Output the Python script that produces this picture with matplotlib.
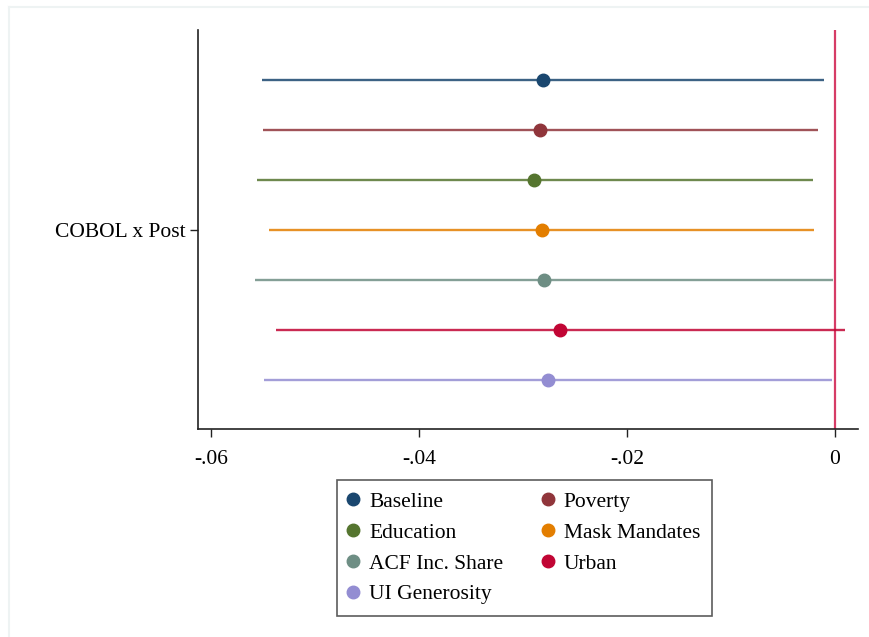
import matplotlib.pyplot as plt
from matplotlib.lines import Line2D

# 模型名称与估计结果（系数与95%置信区间）
models = ['Baseline', 'Poverty', 'Education', 'Mask Mandates',
          'ACF Inc. Share', 'Urban', 'UI Generosity']
coef = [-0.02813, -0.02836, -0.02893, -0.02822, -0.02800, -0.02643, -0.02765]
ci_low = [-0.05514, -0.05504, -0.05565, -0.05443, -0.05581, -0.05376, -0.05497]
ci_high = [-0.00106, -0.00161, -0.00215, -0.00199, -0.00022, 0.00096, -0.00029]
colors = ['#1a476f', '#90353b', '#55752f', '#e37e00',
          '#6e8e84', '#c10534', '#938dd2']

x_ticks = [-0.06, -0.04, -0.02, 0]
x_tick_labels = ['-.06', '-.04', '-.02', '0']
y_label = 'COBOL x Post'

plt.rcParams['font.family'] = ['Liberation Serif', 'DejaVu Serif']

fig = plt.figure(figsize=(8.7, 6.37), dpi=100)
ax = fig.add_axes([0.2272, 0.3261, 0.7590, 0.6268])

# 置信区间与点估计
for i, name in enumerate(models):
    pos = i + 1
    ax.plot([ci_low[i], ci_high[i]], [pos, pos], color=colors[i],
            lw=1.7, alpha=0.85, solid_capstyle='butt', zorder=2)
    ax.plot(coef[i], pos, 'o', color=colors[i], ms=9, label=name, zorder=3)

# 零线
ax.axvline(0, color='#d63c66', lw=1.6, zorder=1)

ax.set_xlim(-0.06133, 0.00221)
ax.set_ylim(7.99, 0)

ax.set_xticks(x_ticks)
ax.set_xticklabels(x_tick_labels, fontsize=15.5)
ax.set_yticks([4])
ax.set_yticklabels([y_label], fontsize=15.5)
ax.tick_params(axis='both', length=6, width=1, color='#222222')
ax.tick_params(axis='x', pad=9)
ax.tick_params(axis='y', pad=3)

for side in ['top', 'right']:
    ax.spines[side].set_visible(False)
for side in ['left', 'bottom']:
    ax.spines[side].set_linewidth(1.2)
    ax.spines[side].set_color('#222222')

# 图例：按行排列（matplotlib 按列填充，所以重新排序）
order = [0, 2, 4, 6, 1, 3, 5]
handles = [Line2D([], [], marker='o', ls='none', color=colors[k], ms=9) for k in order]
labels = [models[k] for k in order]
leg = fig.legend(handles, labels, loc='upper left',
                 bbox_to_anchor=(337 / 870, 1 - 480 / 637),
                 ncol=2, fontsize=15.5, frameon=True, fancybox=False,
                 edgecolor='#333333', handlelength=0.4, handletextpad=0.55,
                 labelspacing=0.5, columnspacing=1.85, borderpad=0.55,
                 borderaxespad=0)
leg.get_frame().set_linewidth(1.2)

# 外框（浅色）
fig.add_artist(Line2D([9 / 870, 9 / 870], [0, 1 - 7 / 637],
                      transform=fig.transFigure, color='#eef3f3', lw=1.5))
fig.add_artist(Line2D([9 / 870, 1], [1 - 7 / 637, 1 - 7 / 637],
                      transform=fig.transFigure, color='#eef3f3', lw=1.5))

fig.savefig('out.png', dpi=100)
